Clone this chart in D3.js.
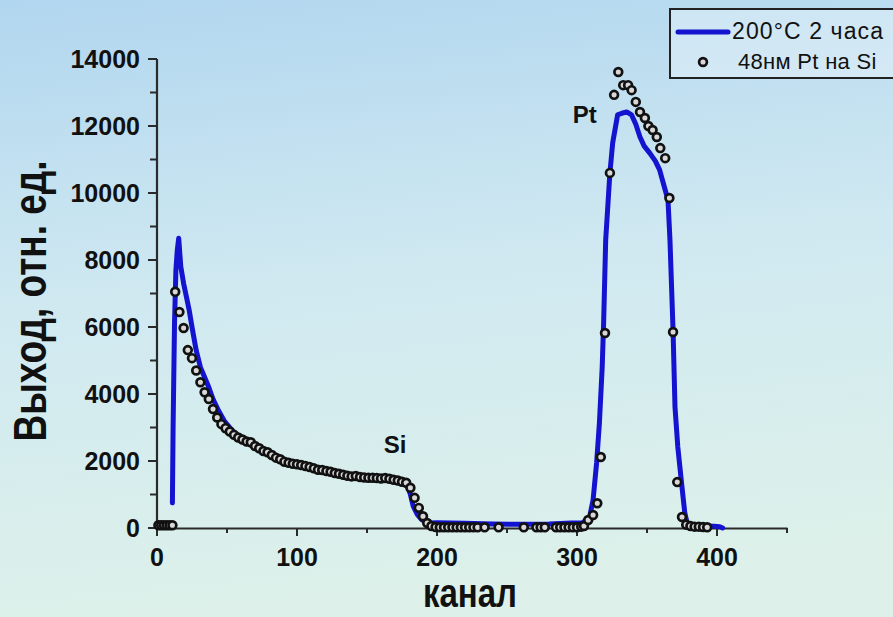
<!DOCTYPE html>
<html>
<head>
<meta charset="utf-8">
<script src="https://cdn.jsdelivr.net/npm/d3@7"></script>
<style>
  html, body { margin: 0; padding: 0; background: #cfe8f2; }
  svg { display: block; }
</style>
</head>
<body>
<svg id="chart" width="893" height="617"></svg>
<script>
// ---------- data ----------
const xTickValues = [0, 100, 200, 300, 400];
const yTickValues = [0, 2000, 4000, 6000, 8000, 10000, 12000, 14000];
const xTitle = "канал";
const yTitle = "Выход, отн. ед.";
const legendLabels = ["200°C 2 часа", "48нм Pt на Si"];

// blue line: 200°C 2 часа
const lineChannels = [11, 11.5, 12.5, 13.5, 14.5, 15.5, 17, 19, 21, 23, 25, 28, 31, 34, 37, 40, 44, 48, 52, 56,
  61, 66, 71, 76, 82, 88, 94, 100, 108, 116, 124, 132, 140, 148, 156, 164, 170, 176, 179, 181,
  183, 186, 189, 192, 196, 200, 220, 240, 260, 280, 296, 304, 309, 311.5, 314, 316, 318, 319,
  320.5, 323.5, 325.5, 329, 332, 335.5, 339, 342, 345, 348, 352, 356, 359, 363, 365, 366.4,
  368.6, 370, 372, 375, 377, 379, 382, 390, 398, 402, 404];
const lineValues = [750, 3000, 6100, 7700, 8300, 8650, 7800, 7300, 6900, 6500, 6000, 5300, 4800, 4500, 4200, 3850, 3500, 3200, 3000, 2800,
  2650, 2500, 2380, 2250, 2150, 2050, 1950, 1900, 1800, 1700, 1650, 1600, 1550, 1500, 1480, 1460, 1430, 1380, 1250, 1000,
  650, 400, 250, 180, 150, 160, 140, 120, 110, 120, 150, 160, 330, 840, 1940, 3130, 4800, 6100,
  8600, 10600, 11500, 12330, 12380, 12420, 12330, 12050, 11670, 11400, 11190, 10950, 10690, 10090, 9790, 8600,
  5910, 3610, 2420, 1220, 450, 90, 70, 60, 50, 40, 0];

// dots: 48нм Pt на Si
const dotChannels = [1, 3, 5, 7, 9, 11, 13, 16, 19, 22, 25, 28, 31, 34, 37, 40, 43, 46, 49, 52, 55, 58,
  61, 64, 67, 70, 73, 76, 79, 82, 85, 88, 91, 94, 97, 100, 103, 106, 109, 112, 115, 118,
  121, 124, 127, 130, 133, 136, 139, 142, 145, 148, 151, 154, 157, 160, 163, 166, 169, 172,
  175, 178, 181, 184, 187, 190, 193, 196, 199, 202, 205, 208, 211, 214, 217, 220, 223, 226,
  229, 234, 244, 262, 271, 274, 277, 285, 288, 291, 294, 297, 300, 303, 305,
  308, 311.5, 314.5, 317, 320, 323.5, 326.5, 329.5, 333, 336.5, 339, 342, 345, 348.5, 351,
  354, 357, 359.5, 363, 366, 368.6, 371.6, 375, 378, 381, 384, 387, 390, 393];
const dotValues = [80, 80, 80, 80, 80, 80, 7050, 6450, 5970, 5310, 5070, 4700, 4350, 4050, 3850, 3550, 3300, 3100, 2980, 2880, 2780, 2700,
  2640, 2580, 2560, 2450, 2380, 2300, 2260, 2180, 2100, 2050, 1980, 1950, 1920, 1900, 1880, 1850, 1820, 1780, 1740, 1730,
  1700, 1680, 1640, 1620, 1590, 1560, 1540, 1550, 1520, 1510, 1500, 1500, 1490, 1480, 1490, 1470, 1440, 1420,
  1380, 1350, 1200, 900, 600, 350, 150, 60, 30, 20, 20, 20, 20, 20, 20, 20, 20, 20,
  20, 20, 20, 20, 20, 20, 20, 20, 20, 20, 20, 20, 20, 40, 60,
  240, 390, 740, 2120, 5820, 10600, 12930, 13610, 13220, 13220, 13070, 12720, 12420, 12240, 12000,
  11880, 11670, 11340, 11040, 9850, 5850, 1370, 330, 100, 60, 40, 40, 30, 20];

// peak annotations (channel, value)
const peakNames = ["Si", "Pt"];
const peakChannels = [162, 297];
const peakValues = [2240, 12090];

// ---------- drawing ----------
const svg = d3.select("#chart");
const W = 893, H = 617;

const defs = svg.append("defs");
const grad = defs.append("linearGradient").attr("id", "bg").attr("x1", 0).attr("y1", 0).attr("x2", 0.15).attr("y2", 1);
grad.append("stop").attr("offset", "0%").attr("stop-color", "#b1d6ef");
grad.append("stop").attr("offset", "50%").attr("stop-color", "#d0e9f1");
grad.append("stop").attr("offset", "100%").attr("stop-color", "#ddf1ea");
svg.append("rect").attr("width", W).attr("height", H).attr("fill", "url(#bg)");

const x = d3.scaleLinear().domain([0, 450]).range([157, 787]);
const y = d3.scaleLinear().domain([0, 14000]).range([528, 59]);

const axisColor = "#2a2a2a";
const fontFamily = "'Liberation Sans', Arial, sans-serif";

// x axis
const xAxisG = svg.append("g").attr("transform", `translate(0,${y(0)})`);
xAxisG.call(d3.axisBottom(x).tickValues(d3.range(0, 451, 50)).tickSizeInner(0).tickSizeOuter(0).tickFormat(""));
xAxisG.select(".domain").attr("stroke", axisColor).attr("stroke-width", 2.2);
xAxisG.selectAll(".tick").remove();
const xTickG = svg.append("g").attr("transform", `translate(0,${y(0)})`);
xTickG.selectAll("line.minor").data(d3.range(50, 451, 100)).join("line")
  .attr("x1", d => x(d)).attr("x2", d => x(d)).attr("y1", 0).attr("y2", 5)
  .attr("stroke", axisColor).attr("stroke-width", 2);
xTickG.selectAll("line.major").data(xTickValues).join("line")
  .attr("x1", d => x(d)).attr("x2", d => x(d)).attr("y1", 0).attr("y2", 8)
  .attr("stroke", axisColor).attr("stroke-width", 2);
xTickG.selectAll("text").data(xTickValues).join("text")
  .attr("x", d => x(d)).attr("y", 38)
  .attr("text-anchor", "middle")
  .attr("font-family", fontFamily).attr("font-weight", "bold").attr("font-size", 25)
  .attr("fill", "#111").text(d => d);

// y axis
const yAxisG = svg.append("g").attr("transform", `translate(${x(0)},0)`);
yAxisG.append("line").attr("x1", 0).attr("x2", 0).attr("y1", y(0)).attr("y2", y(14000))
  .attr("stroke", axisColor).attr("stroke-width", 2.2);
yAxisG.selectAll("line.minor").data(d3.range(1000, 14000, 2000)).join("line")
  .attr("x1", -7).attr("x2", 0).attr("y1", d => y(d)).attr("y2", d => y(d))
  .attr("stroke", axisColor).attr("stroke-width", 2);
yAxisG.selectAll("line.major").data(yTickValues).join("line")
  .attr("x1", -9).attr("x2", 0).attr("y1", d => y(d)).attr("y2", d => y(d))
  .attr("stroke", axisColor).attr("stroke-width", 2);
yAxisG.selectAll("text").data(yTickValues).join("text")
  .attr("x", -17).attr("y", d => y(d)).attr("dy", "0.36em")
  .attr("text-anchor", "end")
  .attr("font-family", fontFamily).attr("font-weight", "bold").attr("font-size", 25)
  .attr("fill", "#111").text(d => d);

// axis titles
svg.append("text")
  .attr("transform", `translate(${(x(0) + x(450)) / 2 - 2},607) scale(1,1.22)`)
  .attr("text-anchor", "middle")
  .attr("font-family", fontFamily).attr("font-weight", "bold").attr("font-size", 33)
  .attr("fill", "#111").text(xTitle);
svg.append("text")
  .attr("transform", `translate(46,301) rotate(-90) scale(1,1.25)`)
  .attr("text-anchor", "middle")
  .attr("font-family", fontFamily).attr("font-weight", "bold").attr("font-size", 37)
  .attr("fill", "#111").text(yTitle);

// blue line
const lineData = lineChannels.map((c, i) => [c, lineValues[i]]);
svg.append("path")
  .datum(lineData)
  .attr("d", d3.line().x(d => x(d[0])).y(d => y(d[1])))
  .attr("fill", "none").attr("stroke", "#1313d0").attr("stroke-width", 5)
  .attr("stroke-linejoin", "round").attr("stroke-linecap", "round");

// dots
const dotData = dotChannels.map((c, i) => [c, dotValues[i]]);
svg.append("g").selectAll("circle").data(dotData).join("circle")
  .attr("cx", d => x(d[0])).attr("cy", d => y(d[1])).attr("r", 3.9)
  .attr("fill", "#d8d8d8").attr("stroke", "#111").attr("stroke-width", 2.7);

// peak labels
svg.append("g").selectAll("text").data(peakNames).join("text")
  .attr("x", (d, i) => x(peakChannels[i])).attr("y", (d, i) => y(peakValues[i]))
  .attr("font-family", fontFamily).attr("font-weight", "bold").attr("font-size", 24)
  .attr("fill", "#111").text(d => d);

// legend
const lg = svg.append("g");
lg.append("rect").attr("x", 670).attr("y", 9).attr("width", 260).attr("height", 69)
  .attr("fill", "#ffffff").attr("fill-opacity", 0.3).attr("stroke", "#222").attr("stroke-width", 2);
lg.append("line").attr("x1", 678).attr("x2", 728).attr("y1", 32).attr("y2", 32)
  .attr("stroke", "#1313d0").attr("stroke-width", 5).attr("stroke-linecap", "round");
lg.append("circle").attr("cx", 703).attr("cy", 62).attr("r", 3.9)
  .attr("fill", "#d8d8d8").attr("stroke", "#111").attr("stroke-width", 2.7);
lg.selectAll("text").data(legendLabels).join("text")
  .attr("x", (d, i) => i === 0 ? 732 : 738).attr("y", (d, i) => i === 0 ? 39 : 69)
  .attr("font-family", fontFamily).attr("font-size", (d, i) => i === 0 ? 23 : 22)
  .attr("letter-spacing", (d, i) => i === 0 ? 1.1 : 0.3)
  .attr("fill", "#111").text(d => d);
</script>
</body>
</html>
